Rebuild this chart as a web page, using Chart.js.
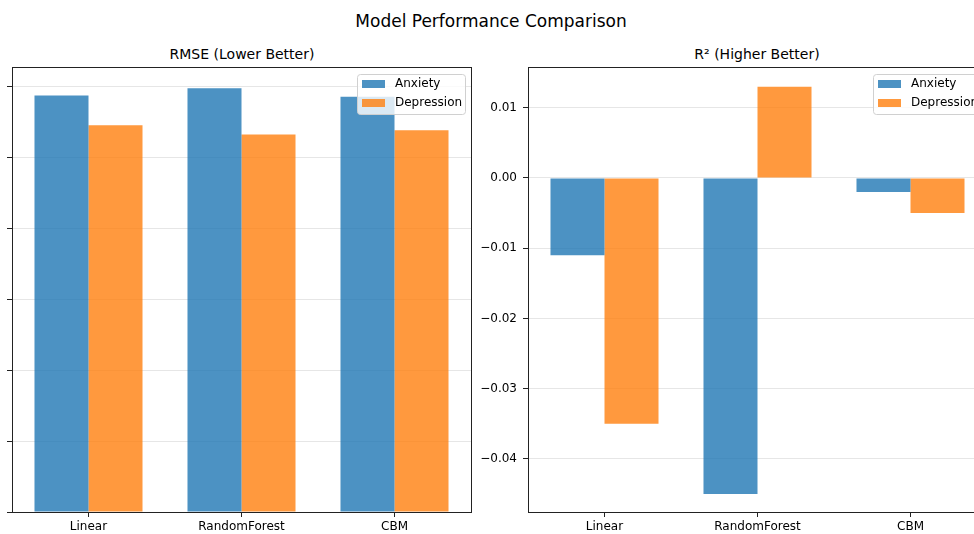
<!DOCTYPE html>
<html>
<head>
<meta charset="utf-8">
<script src="https://cdn.jsdelivr.net/npm/chart.js@4/dist/chart.umd.min.js"></script>
<style>
  html, body { margin: 0; padding: 0; background: #fff; overflow: hidden; }
  #fig { position: relative; width: 974px; height: 534px; overflow: hidden; font-family: "DejaVu Sans", sans-serif; color: #000; }
  .txt { position: absolute; white-space: nowrap; transform: translate(-50%, -50%); }
  #suptitle { left: 491px; top: 21px; font-size: 17px; }
  .subtitle { top: 54px; font-size: 14px; }
  #leftWrap { position: absolute; left: 0; top: 0; width: 490px; height: 534px; }
  #rightWrap { position: absolute; left: 470px; top: 0; width: 540px; height: 534px; }
</style>
</head>
<body>
<div id="fig">
  <div id="suptitle" class="txt">Model Performance Comparison</div>
  <div class="txt subtitle" style="left:242px">RMSE (Lower Better)</div>
  <div class="txt subtitle" style="left:757px">R² (Higher Better)</div>
  <div id="leftWrap"><canvas id="rmseChart" width="490" height="534"></canvas></div>
  <div id="rightWrap"><canvas id="r2Chart" width="540" height="534"></canvas></div>
</div>
<script>
const models = ["Linear", "RandomForest", "CBM"];
const seriesNames = ["Anxiety", "Depression"];

// RMSE (tick labels are cropped off in the source figure)
const rmseAnxiety = [5.87, 5.97, 5.85];
const rmseDepression = [5.45, 5.32, 5.38];
const rmseTicks = [0, 1, 2, 3, 4, 5, 6];

// R²
const r2Anxiety = [-0.011, -0.045, -0.002];
const r2Depression = [-0.035, 0.013, -0.005];
const r2Ticks = [-0.04, -0.03, -0.02, -0.01, 0, 0.01];

const BLUE = "rgba(31,119,180,0.8)";
const ORANGE = "rgba(255,127,14,0.8)";
const FONT = { family: "DejaVu Sans", size: 12 };

// frame on all four sides plus a matplotlib-style legend box inside the axes
const frameAndLegend = {
  id: "frameAndLegend",
  afterDraw(chart) {
    const { ctx, chartArea: a } = chart;
    ctx.save();
    ctx.strokeStyle = "#222";
    ctx.lineWidth = 1;
    ctx.strokeRect(Math.round(a.left) + 0.5, Math.round(a.top) + 0.5,
      Math.round(a.right - a.left), Math.round(a.bottom - a.top));

    const bx = a.right - 114, by = a.top + 7, bw = 108, bh = 40;
    ctx.beginPath();
    ctx.roundRect(bx + 0.5, by + 0.5, bw, bh, 3);
    ctx.fillStyle = "rgba(255,255,255,0.8)";
    ctx.fill();
    ctx.strokeStyle = "#d0d0d0";
    ctx.stroke();

    ctx.font = "12px 'DejaVu Sans'";
    ctx.textBaseline = "middle";
    chart.data.datasets.forEach((ds, i) => {
      const rowY = by + 10 + i * 19;
      ctx.fillStyle = ds.backgroundColor;
      ctx.fillRect(bx + 5, rowY - 4, 23, 8);
      ctx.fillStyle = "#000";
      ctx.fillText(ds.label, bx + 38, rowY);
    });
    ctx.restore();
  }
};

function makeChart(canvasId, a, d, yMin, yMax, ticks, axisWidth, rightPad, showLabels) {
  return new Chart(document.getElementById(canvasId), {
    type: "bar",
    data: {
      labels: models,
      datasets: [
        { label: seriesNames[0], data: a, backgroundColor: BLUE },
        { label: seriesNames[1], data: d, backgroundColor: ORANGE },
      ]
    },
    options: {
      responsive: false,
      animation: false,
      layout: { padding: { top: 67, right: rightPad, bottom: 0, left: 0 } },
      datasets: { bar: { categoryPercentage: 0.706, barPercentage: 1.0, borderWidth: 0 } },
      plugins: { legend: { display: false }, title: { display: false }, tooltip: { enabled: false } },
      scales: {
        x: {
          grid: { display: true, drawOnChartArea: false, drawTicks: true, tickLength: 5, offset: false, tickColor: "#222" },
          border: { color: "#222" },
          ticks: { color: "#000", font: FONT, padding: 3, maxRotation: 0 },
          afterFit(scale) { scale.height = 22; }
        },
        y: {
          min: yMin,
          max: yMax,
          grid: { color: "#e6e6e6", tickColor: "#222", tickLength: 5 },
          border: { color: "#222" },
          ticks: {
            display: showLabels,
            color: "#000",
            font: FONT,
            padding: 6,
            callback: v => v.toFixed(2).replace("-", "\u2212")
          },
          afterBuildTicks(scale) { scale.ticks = ticks.map(v => ({ value: v })); },
          afterFit(scale) { scale.width = axisWidth; }
        }
      }
    },
    plugins: [frameAndLegend]
  });
}

makeChart("rmseChart", rmseAnxiety, rmseDepression, 0, 6.27, rmseTicks, 12, 19, false);
makeChart("r2Chart", r2Anxiety, r2Depression, -0.04755, 0.0158, r2Ticks, 58, 23, true);
</script>
</body>
</html>
